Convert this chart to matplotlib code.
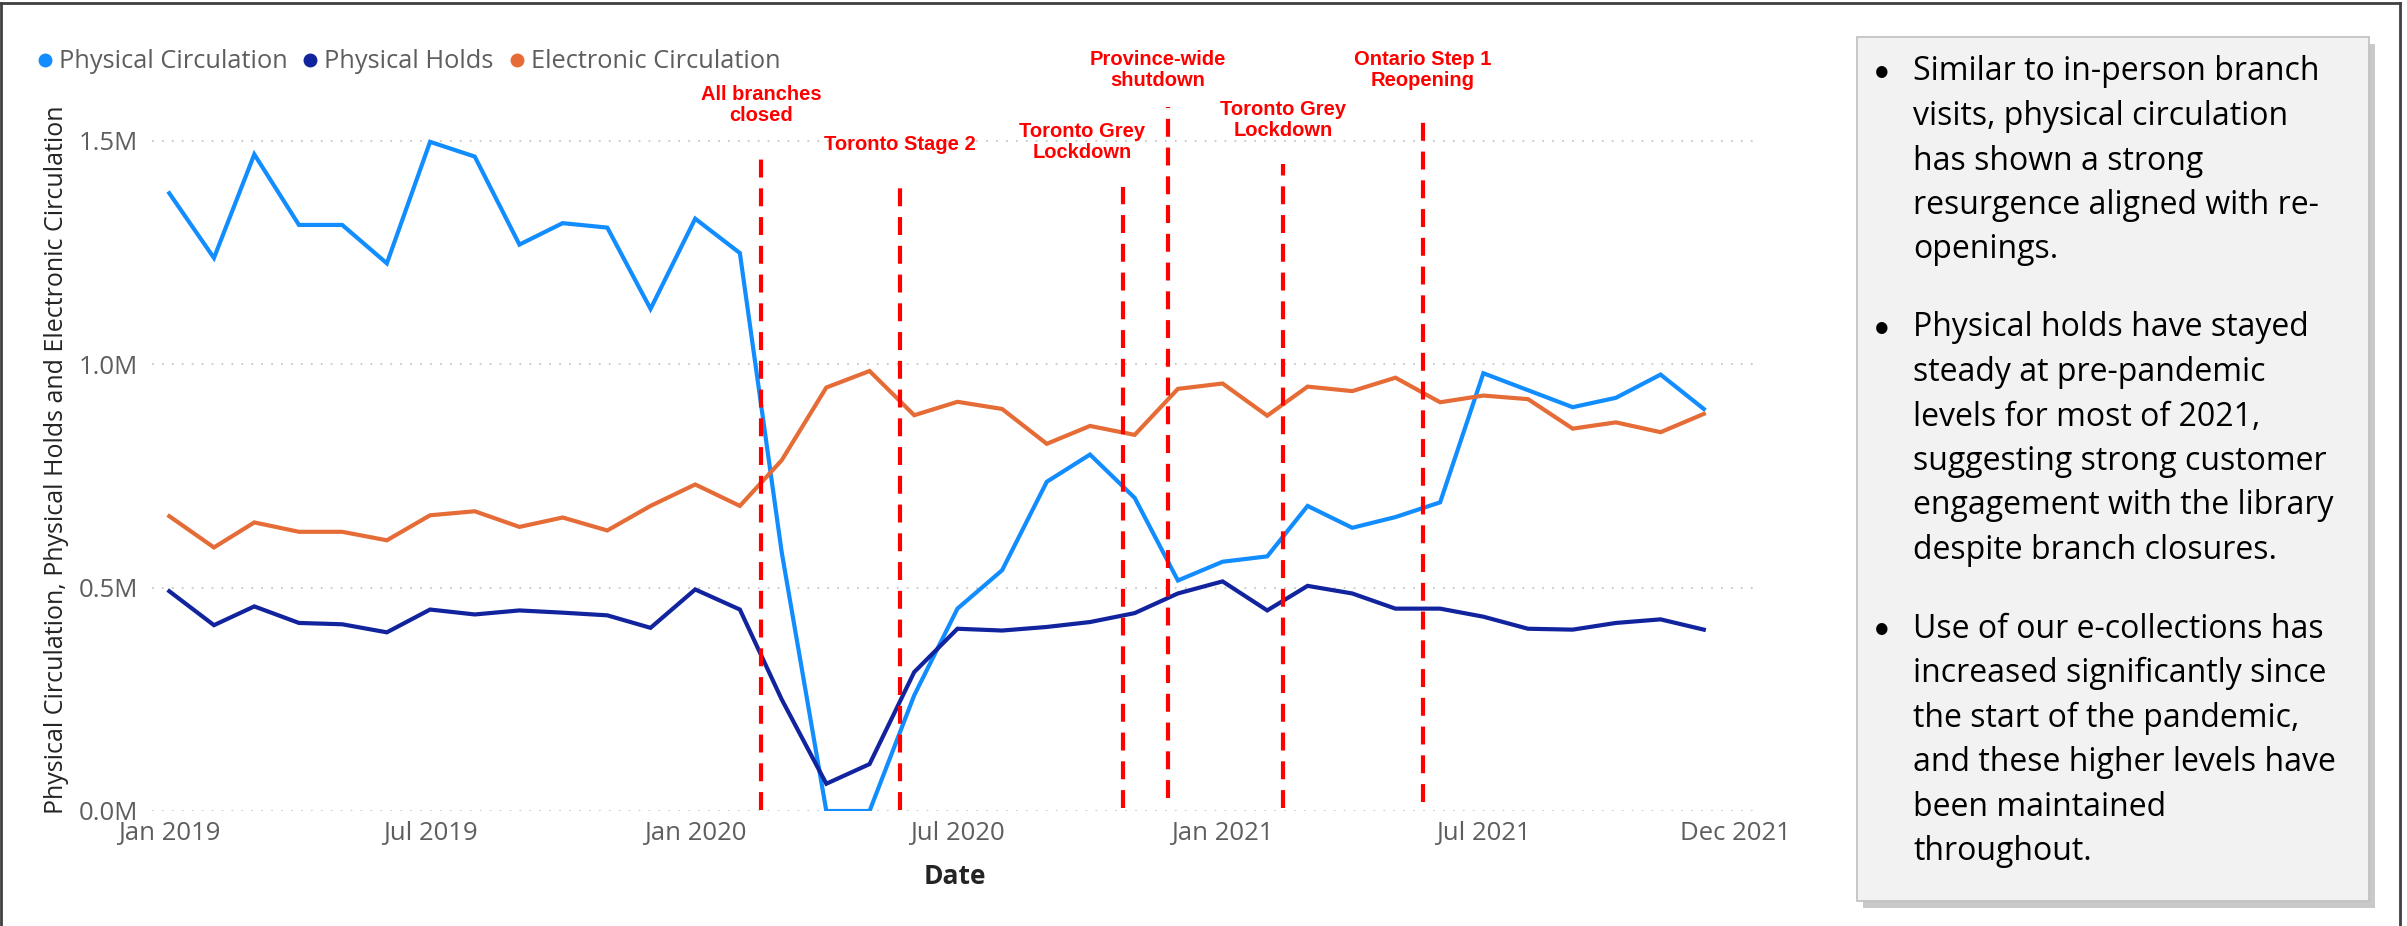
import matplotlib
matplotlib.use("Agg")
import matplotlib.pyplot as plt
import matplotlib.dates as mdates
import matplotlib.transforms as mtransforms
import pandas as pd
from matplotlib.lines import Line2D
from matplotlib.patches import Rectangle
from matplotlib.ticker import FuncFormatter

# Monthly totals, Jan 2019 - Dec 2021
months = pd.date_range("2019-01-01", "2021-12-01", freq="MS")

physical_circulation = [
    1383000, 1238000, 1470000, 1312000, 1312000, 1226000,
    1498000, 1465000, 1268000, 1316000, 1306000, 1124000,
    1326000, 1249000, 580000, 0, 0, 259000,
    453000, 539000, 737000, 798000, 701000, 516000,
    558000, 570000, 683000, 634000, 658000, 691000,
    980000, 942000, 904000, 925000, 977000, 900000,
]
physical_holds = [
    492000, 416000, 458000, 421000, 418000, 400000,
    451000, 440000, 449000, 444000, 438000, 410000,
    496000, 451000, 250000, 61000, 105000, 311000,
    408000, 404000, 412000, 423000, 443000, 487000,
    514000, 449000, 504000, 487000, 453000, 453000,
    435000, 408000, 406000, 421000, 429000, 406000,
]
electronic_circulation = [
    660000, 590000, 646000, 625000, 625000, 606000,
    662000, 671000, 636000, 657000, 628000, 683000,
    731000, 683000, 785000, 948000, 985000, 886000,
    916000, 900000, 822000, 862000, 842000, 945000,
    957000, 885000, 950000, 940000, 970000, 915000,
    930000, 922000, 856000, 870000, 848000, 889000,
]

series_names = ["Physical Circulation", "Physical Holds", "Electronic Circulation"]
series_colors = ["#118DFF", "#12239E", "#E66C37"]

event_dates = pd.to_datetime([
    "2020-02-16", "2020-05-22", "2020-10-24",
    "2020-11-24", "2021-02-12", "2021-05-20",
])
event_labels = [
    "All branches\nclosed", "Toronto Stage 2", "Toronto Grey\nLockdown",
    "Province-wide\nshutdown", "Toronto Grey\nLockdown", "Ontario Step 1\nReopening",
]

tick_dates = pd.to_datetime([
    "2019-01-01", "2019-07-01", "2020-01-01", "2020-07-01",
    "2021-01-01", "2021-07-01", "2021-12-01",
])
tick_labels = ["Jan 2019", "Jul 2019", "Jan 2020", "Jul 2020",
               "Jan 2021", "Jul 2021", "Dec 2021"]

bullets = [
    ["Similar to in-person branch", "visits, physical circulation",
     "has shown a strong", "resurgence aligned with re-", "openings."],
    ["Physical holds have stayed", "steady at pre-pandemic",
     "levels for most of 2021,", "suggesting strong customer",
     "engagement with the library", "despite branch closures."],
    ["Use of our e-collections has", "increased significantly since",
     "the start of the pandemic,", "and these higher levels have",
     "been maintained", "throughout."],
]

W, H = 2407, 926
fig = plt.figure(figsize=(W / 100, H / 100), dpi=100)
plt.rcParams["font.family"] = ["Open Sans", "DejaVu Sans"]


def fx(px):
    return px / W


def fy(py):
    return 1 - py / H


# plot area
ax_left, ax_right, ax_top, ax_bottom = 152, 1760, 100, 811
ax = fig.add_axes([fx(ax_left), fy(ax_bottom), fx(ax_right - ax_left),
                   (ax_bottom - ax_top) / H])
px_per_unit = 446.7 / 1e6
ax.set_ylim(0, (ax_bottom - ax_top) / px_per_unit)
ax.set_xlim(pd.Timestamp("2018-12-20"), pd.Timestamp("2022-01-09"))

for vals, name, col in zip([physical_circulation, physical_holds, electronic_circulation],
                           series_names, series_colors):
    ax.plot(months, vals, color=col, lw=3.0, solid_joinstyle="miter", zorder=3)

# event markers
line_tops = [1.470e6, 1.395e6, 1.397e6, 1.575e6, 1.448e6, 1.565e6]
line_bottoms = [0.002e6, 0.002e6, 0.007e6, 0.03e6, 0.007e6, 0.02e6]
label_dx = [0, 0, -41, -10, 0, 0]
label_cy = [105, 145, 142, 70, 120, 70]
for d, lab, top, bot, dx, cy in zip(event_dates, event_labels, line_tops,
                                    line_bottoms, label_dx, label_cy):
    ax.plot([d, d], [bot, top], color="#FF0000", lw=3.0,
            dashes=(4.3, 2.6), zorder=4, dash_capstyle="butt")
    xpx = ax.transData.transform((mdates.date2num(d), 0))[0]
    fig.text(fx(xpx + dx), fy(cy), lab, color="#FF0000", fontsize=14.5,
             fontweight="bold", ha="center", va="center", linespacing=1.15,
             family=["Liberation Sans", "DejaVu Sans"])

ax.set_yticks([0, 0.5e6, 1.0e6, 1.5e6])
ax.yaxis.set_major_formatter(FuncFormatter(lambda v, p: f"{v / 1e6:.1f}M"))
ax.grid(axis="y", color="#C8C8C8", lw=1.3, ls=(0, (1, 4.5)))
ax.set_axisbelow(True)
ax.set_xticks(tick_dates)
ax.set_xticklabels(tick_labels)
ax.tick_params(axis="both", length=0, colors="#605E5C", labelsize=18.5)
ax.tick_params(axis="y", pad=10)
ax.tick_params(axis="x", pad=7)
for s in ax.spines.values():
    s.set_visible(False)

# last date label sits a little to the right in the original layout
last = ax.get_xticklabels()[-1]
last.set_transform(last.get_transform() +
                   mtransforms.ScaledTranslation(32 / 100, 0, fig.dpi_scale_trans))

fig.text(fx(57), fy(460), "Physical Circulation, Physical Holds and Electronic Circulation",
         rotation=90, ha="center", va="center", fontsize=18, color="#252423")
fig.text(fx(955), fy(876), "Date", ha="center", va="center", fontsize=19,
         fontweight="bold", color="#252423")

handles = [Line2D([], [], ls="none", marker="o", ms=9, color=c) for c in series_colors]
fig.legend(handles, series_names, loc="center left",
           bbox_to_anchor=(fx(32), fy(62)), ncol=3, frameon=False,
           handletextpad=0.05, columnspacing=0.4, handlelength=1.0,
           borderaxespad=0, borderpad=0, fontsize=18.3, labelcolor="#605E5C")

# commentary box
bx0, by0, bx1, by1 = 1857, 37, 2369, 901
fig.patches.append(Rectangle((fx(bx0 + 6), fy(by1 + 7)), fx(bx1 - bx0), (by1 - by0) / H,
                             transform=fig.transFigure, facecolor="#C9C9C9",
                             edgecolor="none", zorder=1))
fig.patches.append(Rectangle((fx(bx0), fy(by1)), fx(bx1 - bx0), (by1 - by0) / H,
                             transform=fig.transFigure, facecolor="#F2F2F2",
                             edgecolor="#BFBFBF", lw=1.2, zorder=2))
para_start = [72, 328, 629]
line_step = 44.5
for start, lines in zip(para_start, bullets):
    fig.text(fx(1882), fy(start), "\u2022", fontsize=22, ha="center", va="center",
             color="#000000", family=["Lato", "DejaVu Sans"], zorder=5)
    for i, ln in enumerate(lines):
        fig.text(fx(1913), fy(start + i * line_step), ln, fontsize=23,
                 ha="left", va="center", color="#000000", zorder=5)

# outer frame (left, top, right)
frame_kw = dict(transform=fig.transFigure, color="#404040", lw=2)
fig.lines.append(Line2D([fx(1), fx(1)], [0, fy(3)], **frame_kw))
fig.lines.append(Line2D([fx(1), fx(2400)], [fy(3), fy(3)], **frame_kw))
fig.lines.append(Line2D([fx(2400), fx(2400)], [0, fy(3)], **frame_kw))

fig.savefig("out.png", dpi=100, facecolor="white")
